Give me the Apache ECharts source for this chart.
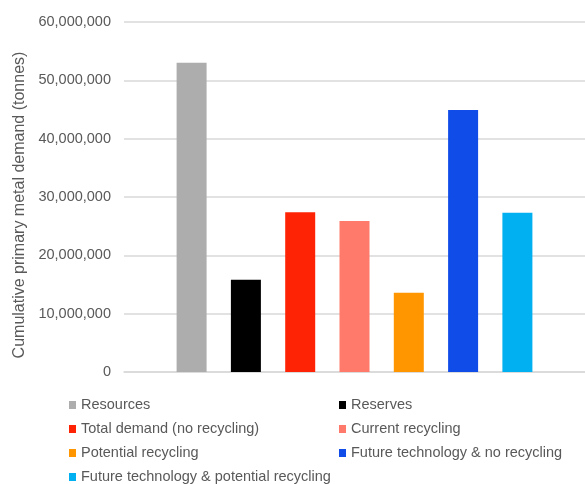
<!DOCTYPE html>
<html>
<head>
<meta charset="utf-8">
<script src="https://cdn.jsdelivr.net/npm/echarts@6/dist/echarts.min.js"></script>
<style>
html,body{margin:0;padding:0;background:#fff;}
#c{width:585px;height:484px;}
</style>
</head>
<body>
<div id="c"></div>
<script>
var seriesNames = [
  'Resources',
  'Reserves',
  'Total demand (no recycling)',
  'Current recycling',
  'Potential recycling',
  'Future technology & no recycling',
  'Future technology & potential recycling'
];
var seriesValues = [53000000, 15800000, 27400000, 25900000, 13600000, 44900000, 27300000];
var seriesColors = ['#ADADAD', '#000000', '#FF2305', '#FF7A6A', '#FF9600', '#104CE8', '#00B0F0'];
var categories = [''];
var yTicks = { min: 0, max: 60000000, interval: 10000000 };
var yAxisTitle = 'Cumulative primary metal demand (tonnes)';

var FONT = '"Liberation Sans", Arial, sans-serif';
var TXT = '#595959';

var series = seriesNames.map(function (n, i) {
  return {
    name: n,
    type: 'bar',
    data: [seriesValues[i]],
    barWidth: 30,
    barGap: '81%',
    itemStyle: { color: seriesColors[i] }
  };
});

var legendBase = {
  orient: 'vertical',
  icon: 'rect',
  itemWidth: 7,
  itemHeight: 8,
  itemGap: 8,
  padding: 0,
  height: 100,
  selectedMode: false,
  textStyle: { fontFamily: FONT, fontSize: 14.5, color: TXT, lineHeight: 16 }
};

var option = {
  animation: false,
  backgroundColor: '#fff',
  grid: { left: 124, right: -3, top: 22, bottom: 112 },
  xAxis: {
    type: 'category',
    data: categories,
    axisLine: { lineStyle: { color: '#D9D9D9', width: 1.5 } },
    axisTick: { show: false },
    axisLabel: { show: false }
  },
  yAxis: {
    type: 'value',
    min: yTicks.min,
    max: yTicks.max,
    interval: yTicks.interval,
    name: yAxisTitle,
    nameLocation: 'middle',
    nameGap: 94,
    nameTextStyle: { fontFamily: FONT, fontSize: 16, color: TXT, padding: [0, 16, 0, 0] },
    axisLine: { show: false },
    axisTick: { show: false },
    axisLabel: {
      margin: 13,
      fontFamily: FONT,
      fontSize: 14.5,
      color: TXT,
      formatter: function (v) { return v.toString().replace(/\B(?=(\d{3})+(?!\d))/g, ','); }
    },
    splitLine: { lineStyle: { color: '#D9D9D9', width: 1.5 } }
  },
  legend: [
    Object.assign({}, legendBase, {
      left: 69, top: 397,
      data: [seriesNames[0], seriesNames[2], seriesNames[4], seriesNames[6]]
    }),
    Object.assign({}, legendBase, {
      left: 339, top: 397,
      data: [seriesNames[1], seriesNames[3], seriesNames[5]]
    })
  ],
  series: series
};

var chart = echarts.init(document.getElementById('c'), null, { renderer: 'canvas' });
chart.setOption(option);
</script>
</body>
</html>
